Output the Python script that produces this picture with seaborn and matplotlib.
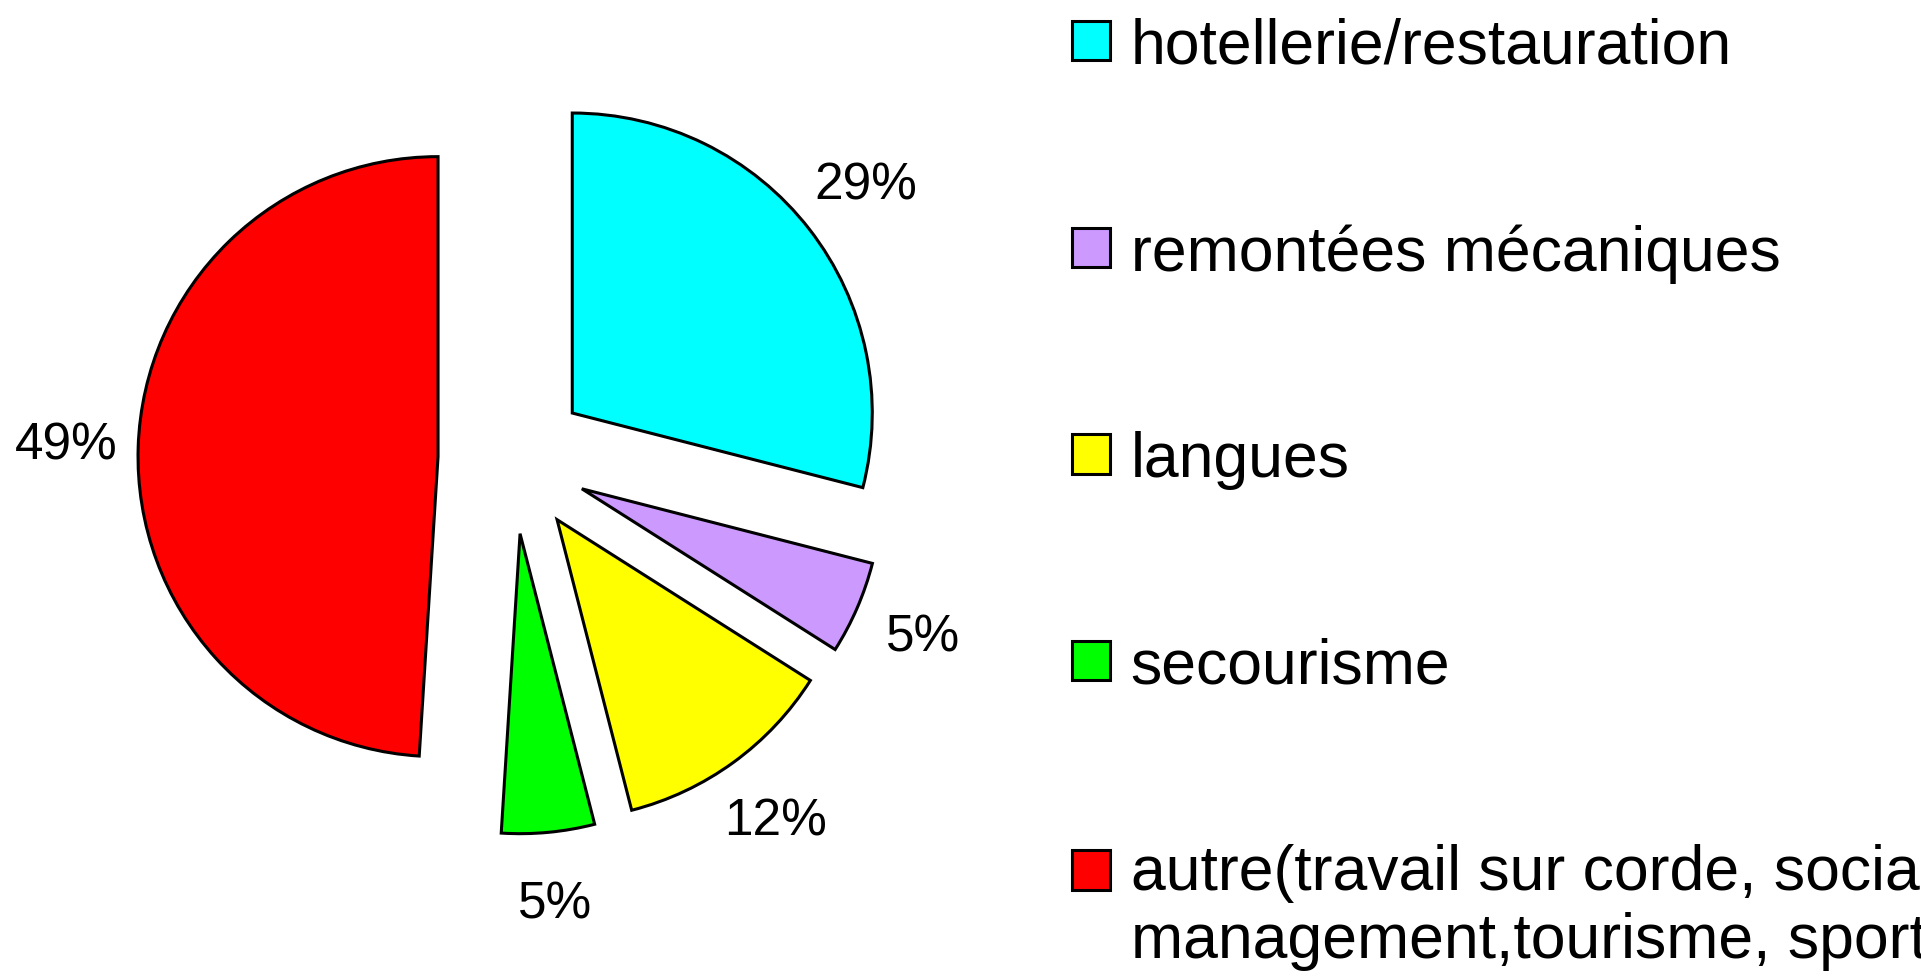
import matplotlib
matplotlib.use("Agg")
import matplotlib.pyplot as plt
import seaborn as sns

categories = ["hotellerie/restauration", "remontées mécaniques", "langues", "secourisme",
              "autre(travail sur corde, social,\nmanagement,tourisme, sport)"]
values = [29, 5, 12, 5, 49]
colors = ["#00FFFF", "#CC99FF", "#FFFF00", "#00FF00", "#FF0000"]

sns.set_theme(style="white")
plt.rcParams['font.family'] = ['Liberation Sans', 'DejaVu Sans']
plt.rcParams['text.color'] = 'black'

W, H = 1921, 978
fig = plt.figure(figsize=(W / 100, H / 100), dpi=100)
cx, cy, half = 513, 460, 400
ax = fig.add_axes([(cx - half) / W, (H - cy - half) / H, 2 * half / W, 2 * half / H])
lim = half / 300
ax.set_aspect("equal")
ax.axis("off")

wedges, texts, autotexts = ax.pie(
    values, colors=colors, explode=[0.25] * len(values), startangle=90,
    counterclock=False, autopct="%1.0f%%", pctdistance=1.24, radius=1,
    wedgeprops=dict(edgecolor="black", linewidth=2.2),
    textprops=dict(fontsize=37, color="black"))
ax.set_xlim(-lim, lim)
ax.set_ylim(-lim, lim)

leg = ax.legend(wedges, categories, loc="upper left",
                bbox_to_anchor=(1072 / W, 0.982), bbox_transform=fig.transFigure,
                frameon=False, fontsize=45, handlelength=0.6, handleheight=0.6,
                handletextpad=0.34, labelspacing=2.36, borderpad=0, borderaxespad=0)
for t in leg.get_texts():
    t.set_color("black")
for h in leg.legend_handles:
    h.set_linewidth(2.2)
    h.set_edgecolor("black")
# align the marker of the two-line entry with its first line
last = leg.legend_handles[-1]
last.set_y(last.get_y() + 0.6 * 45)

fig.savefig("out.png", dpi=100)
